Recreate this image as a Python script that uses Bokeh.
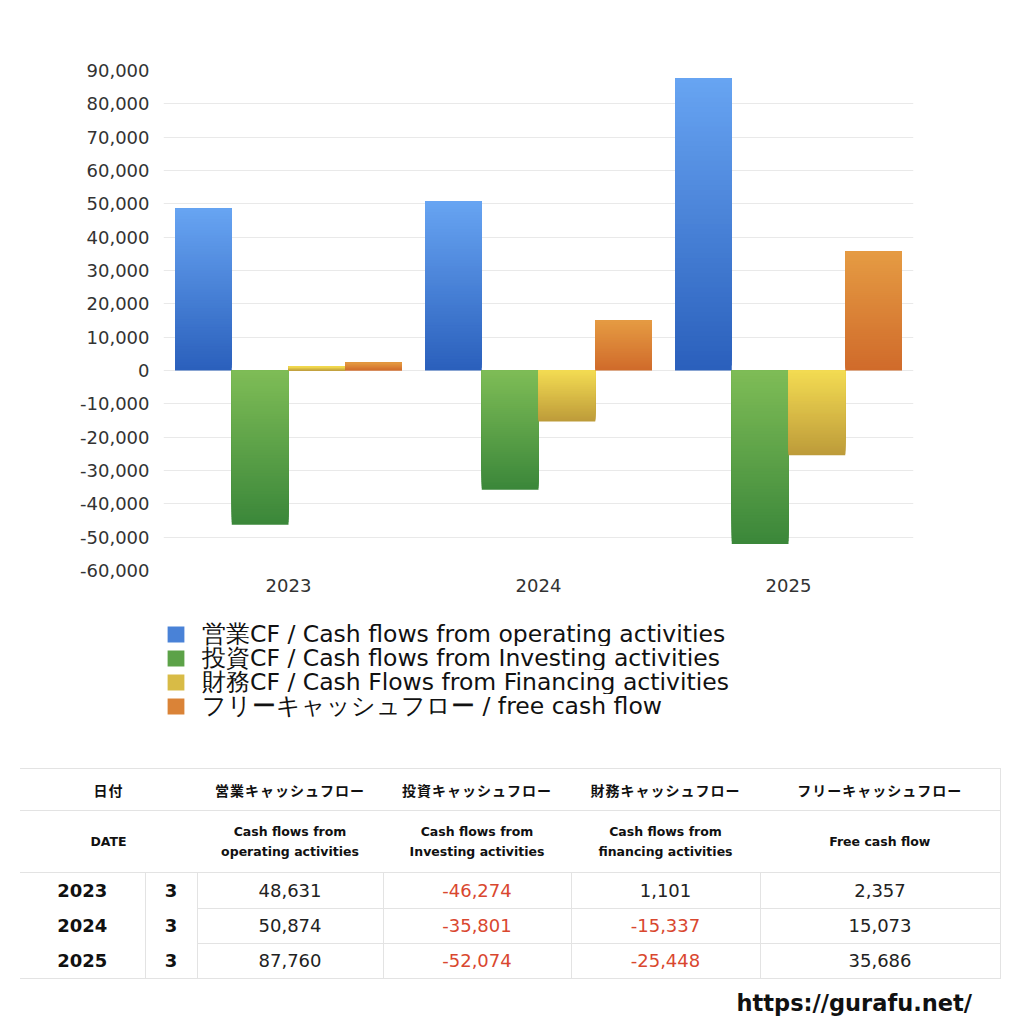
import numpy as np
from bokeh.plotting import figure
from bokeh.models import (Range1d, FixedTicker, NumeralTickFormatter, Legend,
                          LegendItem, Div)
from bokeh.layouts import column
from bokeh.embed import file_html
from bokeh.resources import INLINE

years = ["2023", "2024", "2025"]
months = ["3", "3", "3"]
operating = [48631, 50874, 87760]
investing = [-46274, -35801, -52074]
financing = [1101, -15337, -25448]
free_cf = [2357, 15073, 35686]

legend_labels = [
    "営業CF / Cash flows from operating activities",
    "投資CF / Cash flows from Investing activities",
    "財務CF / Cash Flows from Financing activities",
    "フリーキャッシュフロー / free cash flow",
]
head_jp = ["営業キャッシュフロー", "投資キャッシュフロー", "財務キャッシュフロー", "フリーキャッシュフロー"]
head_en = ["Cash flows from<br>operating activities", "Cash flows from<br>Investing activities",
           "Cash flows from<br>financing activities", "Free cash flow"]

FONT = "DejaVu Sans"
JP = "'DejaVu Sans','Noto Sans CJK JP'"
series = [operating, investing, financing, free_cf]
# (light top, dark bottom)
grads = [("#67a4f2", "#2b60bc"), ("#7ebc56", "#3b873a"),
         ("#f3db52", "#bd9b3a"), ("#e59b43", "#d06b2b")]


def hex2rgb(h):
    return np.array([int(h[i:i + 2], 16) for i in (1, 3, 5)], dtype=float)


def mix(a, b, t):
    c = hex2rgb(a) * (1 - t) + hex2rgb(b) * t
    return "#%02x%02x%02x" % tuple(int(round(v)) for v in c)


p = figure(frame_width=750, frame_height=500, output_backend="svg", toolbar_location=None,
           x_range=Range1d(-0.5, 2.5), y_range=Range1d(-60000, 90000),
           min_border_left=163, min_border_right=95, min_border_top=70,
           min_border_bottom=40)
p.outline_line_color = None
p.xgrid.grid_line_color = None
p.ygrid.grid_line_color = "#e9e9e9"
p.ygrid.grid_line_width = 1

p.yaxis.ticker = FixedTicker(ticks=list(range(-60000, 90001, 10000)))
p.yaxis.formatter = NumeralTickFormatter(format="0,0")
p.xaxis.ticker = FixedTicker(ticks=list(range(len(years))))
p.xaxis.major_label_overrides = {i: y for i, y in enumerate(years)}
for ax in (p.xaxis, p.yaxis):
    ax.axis_line_color = None
    ax.major_tick_line_color = None
    ax.minor_tick_line_color = None
    ax.major_tick_in = 0
    ax.major_tick_out = 0
    ax.major_label_text_font = FONT
    ax.major_label_text_font_size = "18px"
    ax.major_label_text_color = "#333333"
p.yaxis.major_label_standoff = 14
p.xaxis.major_label_standoff = 8

bw = 0.227
N = 60
for si, vals in enumerate(series):
    light, dark = grads[si]
    off = (si - 1.5) * bw
    lefts, rights, bots, tops, cols = [], [], [], [], []
    for gi, v in enumerate(vals):
        lo, hi = min(0, v), max(0, v)
        h = (hi - lo) / N
        for k in range(N):
            # each slice runs to the bar's top so no seams show between slices
            lefts.append(gi + off - bw / 2)
            rights.append(gi + off + bw / 2)
            bots.append(lo + k * h)
            tops.append(hi)
            cols.append(mix(dark, light, k / (N - 1)))
    p.quad(left=lefts, right=rights, bottom=bots, top=tops, fill_color=cols,
           line_color=None)

# legend: one thin figure per entry so the rows sit 24px apart
rows = []
for si, lab in enumerate(legend_labels):
    first = si == 0
    lf = figure(width=1008, height=36 if first else 24, output_backend="svg",
                toolbar_location=None, x_axis_type=None, y_axis_type=None,
                x_range=Range1d(0, 1), y_range=Range1d(0, 1),
                min_border_left=163, min_border_top=12 if first else 0,
                min_border_right=0, min_border_bottom=0)
    lf.outline_line_color = None
    lf.grid.visible = False
    r = lf.quad(left=[-1], right=[-1], bottom=[-1], top=[-1],
                fill_color=mix(grads[si][1], grads[si][0], 0.5), line_color=None)
    leg = Legend(items=[LegendItem(label=lab, renderers=[r])], location="left",
                 label_text_font=FONT, label_text_font_size="23.5px",
                 label_text_color="#111111", glyph_width=21, glyph_height=20,
                 label_height=20, label_standoff=16, spacing=0, padding=0,
                 margin=2, border_line_color=None, background_fill_alpha=0)
    lf.add_layout(leg, "center")
    rows.append(lf)

# table
cell = "padding:0;text-align:center;"
bd = "1px solid #e3e3e3"
html = ['<table style="border-collapse:collapse;table-layout:fixed;width:980px;'
        f'margin-left:20px;margin-top:50px;font-family:{JP};color:#111;">']
html.append('<colgroup><col style="width:125px"><col style="width:52px">'
            '<col style="width:186px"><col style="width:188px">'
            '<col style="width:189px"><col style="width:240px"></colgroup>')
html.append('<tr style="height:42px;font-size:14px;font-weight:bold;letter-spacing:1px;'
            'font-family:\'Noto Sans CJK JP\';">'
            f'<td colspan="2" style="{cell}border-top:{bd};border-bottom:{bd};">日付</td>')
for i, h in enumerate(head_jp):
    rb = f"border-right:{bd};" if i == 3 else ""
    html.append(f'<td style="{cell}border-top:{bd};border-bottom:{bd};{rb}">{h}</td>')
html.append('</tr>')
html.append('<tr style="height:62px;font-size:12.5px;font-weight:bold;">'
            f'<td colspan="2" style="{cell}border-bottom:{bd};">DATE</td>')
for i, h in enumerate(head_en):
    rb = f"border-right:{bd};" if i == 3 else ""
    html.append(f'<td style="{cell}border-bottom:{bd};{rb}line-height:20px;">{h}</td>')
html.append('</tr>')
for r, y in enumerate(years):
    hgt = 36 if r == 0 else 35
    last = r == len(years) - 1
    bb = f"border-bottom:{bd};" if last else ""
    html.append(f'<tr style="height:{hgt}px;">')
    html.append(f'<td style="{cell}font-size:18px;font-weight:bold;{bb}">{y}</td>')
    html.append(f'<td style="{cell}font-size:18px;font-weight:bold;border-left:{bd};border-right:{bd};{bb}">{months[r]}</td>')
    for si, vals in enumerate(series):
        v = vals[r]
        col = "#d9472f" if v < 0 else "#222"
        tb = f"border-top:{bd};" if r > 0 else ""
        html.append(f'<td style="{cell}font-size:18px;color:{col};border-right:{bd};{tb}{bb}">{v:,}</td>')
    html.append('</tr>')
html.append('</table>')
table = Div(text="".join(html), width=1008, height=260, margin=0)

url = Div(text=f'<div style="width:972px;text-align:right;font-family:{JP};'
               'font-size:22.5px;font-weight:bold;color:#111;line-height:50px;">https://gurafu.net/</div>',
          width=1008, height=46, margin=0)

layout = column(p, *rows, table, url, spacing=0)
open("out.html", "w").write(file_html(layout, INLINE))
